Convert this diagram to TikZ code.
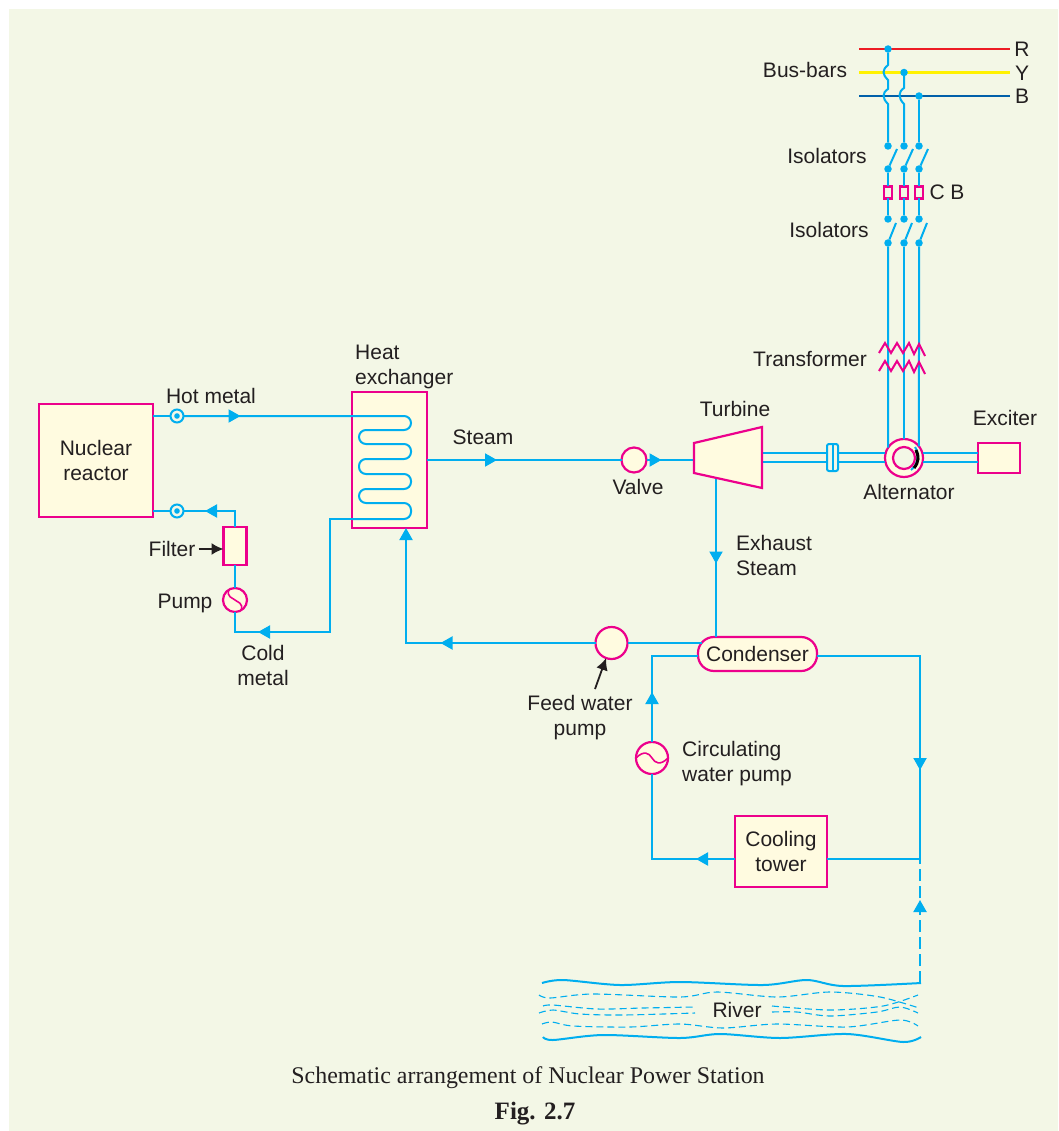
\documentclass[tikz,border=0pt]{standalone}
\usepackage{fontspec}
\setmainfont{Liberation Sans}
\newfontfamily\capfont{Liberation Serif}
\usetikzlibrary{arrows.meta,decorations.markings}
\definecolor{panel}{HTML}{F3F7E6}
\definecolor{cream}{HTML}{FFFBE0}
\definecolor{mag}{HTML}{EC008C}
\definecolor{pipe}{HTML}{00AEEF}
\definecolor{ink}{HTML}{231F20}
\definecolor{busblue}{HTML}{0060A9}
\definecolor{busyellow}{HTML}{FFF200}
\definecolor{busred}{HTML}{ED1C24}
\tikzset{>={Latex[width=12pt,length=12pt]}}
\tikzset{
  unit/.style={draw=mag,fill=cream,line width=2.2pt,rectangle,inner sep=0pt,outer sep=0pt,align=center,text=ink},
  round unit/.style={draw=mag,fill=cream,line width=2.2pt,circle,inner sep=0pt,outer sep=0pt},
  flow/.style={draw=pipe,line width=2pt},
  flowtip/.style={postaction={decorate},decoration={markings,
    mark=at position #1 with {\arrow[pipe]{Triangle[width=13pt,length=12pt]}}}},
  ring/.style={circle,draw=pipe,fill=panel,line width=2pt,minimum size=13pt,inner sep=0pt,outer sep=0pt,
    path picture={\fill[pipe] (path picture bounding box.center) circle (2.8pt);}},
  dot/.style={circle,fill=pipe,minimum size=7.5pt,inner sep=0pt,outer sep=0pt},
  cb/.style={draw=mag,line width=2.2pt,minimum width=8pt,minimum height=12pt,inner sep=0pt,outer sep=0pt},
  label/.style={text=ink,align=center,inner sep=0pt},
  water/.style={draw=pipe,line width=1.1pt,dash pattern=on 7pt off 4pt},
  wave/.style={draw=pipe,line width=2pt}
}
\begin{document}
\begin{tikzpicture}[x=1pt,y=-1pt,font=\fontsize{21}{25}\selectfont]

  \useasboundingbox (0,0) rectangle (1058,1131);
  \fill[white] (0,0) rectangle (1058,1131);
  \fill[panel] (9,9) rectangle (1058,1131);

  % plant
  \node[unit,minimum width=114pt,minimum height=113pt] (reactor) at (96,460.5) {Nuclear\\reactor};
  \node[unit,minimum width=75pt,minimum height=136pt] (exch) at (389.5,460) {};
  \node[unit,minimum width=23pt,minimum height=38pt] (filter) at (235,546) {};
  \node[round unit,minimum size=24pt] (pump) at (235,600) {};
  \node[ring] (hotring) at (177,416) {};
  \node[ring] (coldring) at (177,511) {};
  \node[round unit,minimum size=25pt] (valve) at (634,460) {};
  \node[round unit,minimum size=32pt] (feedpump) at (611.5,643) {};
  \node[round unit,minimum size=32pt] (circpump) at (652,758) {};
  \node[unit,rounded corners=16pt,minimum width=119pt,minimum height=34pt] (condenser) at (757.5,654) {Condenser};
  \node[unit,minimum width=92pt,minimum height=71pt] (tower) at (781,851.5) {Cooling\\tower};
  \node[unit,minimum width=42pt,minimum height=30pt] (exciter) at (999,458) {};
  \node[round unit,minimum size=38pt] (alt) at (904,458) {};

  % turbine
  \coordinate (turbin) at (694,460);
  \coordinate (turbex) at (716,478.5);
  \coordinate (turbup) at (762,453);
  \coordinate (turbdn) at (762,462);

  % bus-bars
  \draw[busred,line width=2.2pt] (859,49) coordinate (rl) -- (1010,49) coordinate (rr);
  \draw[busyellow,line width=2.2pt] (859,72.5) coordinate (yl) -- (1010,72.5) coordinate (yr);
  \draw[busblue,line width=2.2pt] (859,96) coordinate (bl) -- (1010,96) coordinate (br);

  % hot metal
  \draw[flow] (reactor.east |- hotring) -- (hotring);
  \draw[flow,flowtip=57pt,rounded corners=7pt] (hotring) -- (411,416) -- (411,430) -- (359,430) -- (359,444)
    -- (411,444) -- (411,459) -- (359,459) -- (359,474) -- (411,474) -- (411,489)
    -- (359,489) -- (359,503) -- (411,503) -- (411,519) -- (exch.west |- 0,519) coordinate (coilout);

  % cold metal
  \draw[flow,flowtip=207pt] (coilout) -- (330,519) -- (330,632) -- (235,632) -- (pump);
  \draw[flow] (pump) -- (filter);
  \draw[flow,flowtip=46pt] (filter) -- (235,511) -- (coldring);
  \draw[flow] (coldring) -- (reactor.east |- coldring);

  % steam
  \draw[flow,flowtip=70pt] (exch.east) -- (valve);
  \draw[flow,flowtip=15pt] (valve) -- (turbin);
  \draw[flow,flowtip=85pt] (turbex) -- (turbex |- condenser.north);

  % feed water
  \draw[flow] (702,643) coordinate (condout) -- (feedpump);
  \draw[flow,flowtip=155pt,-{Triangle[width=13pt,length=12pt]}] (feedpump) -- (406,643) -- (exch.south -| 406,0);

  % circulating water
  \draw[flow,flowtip=50pt] (circpump) -- (652,656) -- (condenser.west |- 0,656);
  \draw[flow,flowtip=39pt] (tower.west |- 0,859) -- (652,859) -- (circpump);
  \draw[flow,flowtip=217pt] (condenser.east |- 0,656) -- (920,656) -- (920,859) coordinate (joint) -- (tower.east |- joint);
  \draw[flow,dash pattern=on 12pt off 5pt,flowtip=83pt] (920,983) coordinate (intake) -- (joint);

  % shaft
  \draw[flow] (turbup) -- (alt.west |- turbup);
  \draw[flow] (turbdn) -- (alt.west |- turbdn);
  \draw[flow] (alt.east |- turbup) -- (exciter.west |- turbup);
  \draw[flow] (alt.east |- turbdn) -- (exciter.west |- turbdn);
  \node[draw=pipe,fill=panel,line width=2pt,rounded corners=2pt,minimum width=11pt,minimum height=27pt,inner sep=0pt,outer sep=0pt] (coupling) at (832.5,457.5) {};
  \draw[flow] (coupling.north) -- (coupling.south);

  % turbine body
  \draw[mag,fill=cream,line width=2.2pt,line join=miter] (694,443) -- (762,427) -- (762,488) -- (694,473) -- cycle;

  % three phase leads
  \foreach \x/\n/\busy/\ang in {888/r/49/147,904/y/72.5/90,919/b/96/38}{
    \node[dot] (tap\n) at (\x,\busy) {};
    \node[dot] (isoa\n) at (\x,146) {};
    \node[dot] (isob\n) at (\x,169) {};
    \node[cb] (cb\n) at (\x,192.5) {};
    \node[dot] (isoc\n) at (\x,219) {};
    \node[dot] (isod\n) at (\x,243) {};
    \draw[flow] (isob\n) -- (\x+9,149);
    \draw[flow] (isod\n) -- (\x+8,223);
    \draw[flow] (isob\n) -- (cb\n);
    \draw[flow] (cb\n) -- (isoc\n);
    \draw[flow] (isod\n) -- (alt.\ang);
  }
  \draw[flow] (tapr) -- (888,65) .. controls (882,70) and (882,74) .. (888,80) -- (888,89)
    .. controls (882,93) and (882,98) .. (888,104) -- (isoar);
  \draw[flow] (tapy) -- (904,88) .. controls (898,92) and (898,98) .. (904,104) -- (isoay);
  \draw[flow] (tapb) -- (isoab);

  % transformer
  \foreach \dy in {0,18}{
    \draw[mag,line width=2pt] (879,353+\dy) -- (885,343+\dy) -- (891,353+\dy) -- (897,343+\dy)
      -- (903,353+\dy) -- (909,343+\dy) -- (914,354+\dy) -- (919,344+\dy) -- (925,356+\dy);
  }

  % pump symbols
  \draw[mag,line width=1.6pt] (pump.120) .. controls (226,597) and (233,598) .. (235,600)
    .. controls (237,602) and (244,603) .. (pump.-60);
  \draw[mag,line width=1.6pt] (circpump.west) .. controls (644,750) and (649,753) .. (652,758)
    .. controls (655,763) and (660,766) .. (circpump.east);

  % alternator
  \node[round unit,fill=panel,minimum size=22pt] (altin) at (alt) {};
  \draw[pipe,line width=2pt] (915,447) .. controls (919,453) and (919,464) .. (911,470);
  \draw[black,line width=3pt] (916,450) .. controls (919,456) and (919,462) .. (914,468);

  % river
  \draw[wave] plot[smooth] coordinates {(542,983) (563,980) (620,985) (680,982) (763,985) (807,980) (843,986) (921,983)};
  \draw[wave] plot[smooth] coordinates {(543,1037) (553,1040) (603,1035) (680,1038) (720,1034) (780,1038) (847,1034) (903,1042) (921,1037)};
  \draw[water] plot[smooth] coordinates {(539,995) (550,998) (593,994) (680,997) (717,992) (777,997) (830,992) (880,997) (919,1008)};
  \draw[water] plot[smooth] coordinates {(543,1006) (553,1005) (597,1009) (643,1008) (695,1007)};
  \draw[water] plot[smooth] coordinates {(772,1006) (830,1010) (883,1006) (918,995)};
  \draw[water] plot[smooth] coordinates {(539,1013) (553,1010) (580,1014) (623,1015) (695,1013)};
  \draw[water] plot[smooth] coordinates {(772,1012) (797,1012) (830,1016) (877,1012) (900,1007) (918,1013)};
  \draw[water] plot[smooth] coordinates {(542,1024) (552,1022) (573,1026) (630,1027) (680,1024) (723,1028) (777,1024) (847,1027) (900,1020) (918,1026)};

  % labels
  \node[label] (hotlabel) at (211,396) {Hot metal};
  \node[label,anchor=west,align=left] (exchlabel) at (355,366.5) {Heat\\exchanger};
  \node[label] (steamlabel) at (483,437) {Steam};
  \node[label] (valvelabel) at (638,487) {Valve};
  \node[label] (turblabel) at (735,409) {Turbine};
  \node[label] (excitlabel) at (1005,418) {Exciter};
  \node[label] (altlabel) at (909,492) {Alternator};
  \node[label] (translabel) at (810,359) {Transformer};
  \node[label] (isolabela) at (827,156) {Isolators};
  \node[label] (isolabelb) at (829,230) {Isolators};
  \node[label] (cblabel) at (947,192.5) {C B};
  \node[label] (buslabel) at (805,70) {Bus-bars};
  \node[label] (rlabel) at (1022,49.5) {R};
  \node[label] (ylabel) at (1022,73) {Y};
  \node[label] (blabel) at (1022,96.5) {B};
  \node[label,align=left,anchor=west] (exhlabel) at (736,555) {Exhaust\\Steam};
  \node[label] (feedlabel) at (580,718) {Feed water\\pump};
  \node[label,align=left,anchor=west] (circlabel) at (682,763.5) {Circulating\\water pump};
  \node[label] (riverlabel) at (737,1010) {River};
  \node[label] (coldlabel) at (263,665) {Cold\\metal};
  \node[label] (filterlabel) at (172,549) {Filter};
  \node[label] (pumplabel) at (185,603) {Pump};
  \node[label,font=\capfont\fontsize{23.9}{28}\selectfont] (caption) at (528,1078) {Schematic arrangement of Nuclear Power Station};
  \node[label,font=\capfont\bfseries\fontsize{25}{30}\selectfont] (figlabel) at (535,1114) {Fig. 2.7};

  \draw[->,ink,line width=1.8pt] (filterlabel.east) ++(3,0) coordinate (filtertail) -- (filter.west |- filterlabel);
  \draw[->,ink,line width=1.8pt] (595,689) coordinate (feedtail) -- (feedpump);

\end{tikzpicture}
\end{document}
